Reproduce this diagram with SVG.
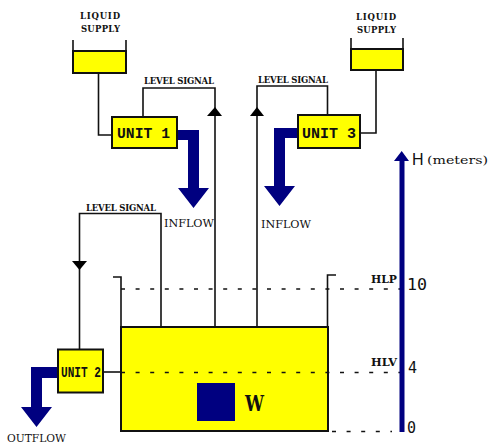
<svg xmlns="http://www.w3.org/2000/svg" width="489" height="445" viewBox="0 0 489 445">
<defs>
<style>
.y{fill:#ffff00;stroke:#111;stroke-width:2}
.w{fill:none;stroke:#111;stroke-width:1.6}
.d{fill:none;stroke:#111;stroke-width:1.6;stroke-dasharray:4 10.6}
.b{fill:#000080}
.k{fill:#000}
text{font-family:"DejaVu Serif","Liberation Serif",serif;fill:#111}
.s{font-size:8.500px;font-weight:bold}
.u{font-size:14.500px;font-weight:bold;font-family:"Liberation Mono","DejaVu Sans Mono",monospace}
.m{font-size:11.500px}
.n{font-size:15px;font-family:"DejaVu Sans Mono","Liberation Mono",monospace}
.h{font-size:11px;font-weight:bold}
</style>
</defs>
<rect width="489" height="445" fill="#fff"/>
<g id="tank">
<rect class="y" x="121" y="327" width="207" height="104"/>
<path class="w" d="M113 277H121V327M336 275H327.500V327"/>
<rect class="b" x="197" y="383" width="38" height="38"/>
<text x="245" y="411" textLength="19" lengthAdjust="spacingAndGlyphs" style="font-size:22px;font-weight:bold">W</text>
</g>
<g id="connectors">
<path class="w" d="M98.500 73V135H112"/>
<path class="w" d="M143 117V88H215V327"/>
<path class="k" d="M215 107L222 116H207Z"/>
<path class="w" d="M376 70V133H360"/>
<path class="w" d="M327.500 115V86H257V327"/>
<path class="k" d="M257 107L264 116H250Z"/>
<path class="w" d="M79.500 349V213.500H161V327"/>
<path class="k" d="M79.500 270L87 261H72Z"/>
<path class="w" d="M103 372H121"/>
<path class="b" d="M177 130H199V188H209L193.500 208L178 188H188V140H177Z"/>
<path class="b" d="M298 128H274V186H264L279.500 206L295 186H285V138H298Z"/>
<path class="b" d="M58 367H31V407H21L36.500 427L52 407H42V378H58Z"/>
<path class="d" d="M121 289H402M121 372.500H402M332 431.500H392"/>
<path class="b" d="M399.500 432V161H394L401.700 151L409 161H404.500V432Z"/>
</g>
<g id="supply1">
<path class="w" d="M73 40V51M126 40V51"/>
<rect class="y" x="73" y="51" width="53" height="22"/>
<text class="s" x="80" y="19" textLength="40">LIQUID</text>
<text class="s" x="81" y="32" textLength="39">SUPPLY</text>
</g>
<g id="supply3">
<path class="w" d="M351 38V49M403 38V49"/>
<rect class="y" x="351" y="49" width="52" height="21"/>
<text class="s" x="356" y="20" textLength="40">LIQUID</text>
<text class="s" x="357" y="33" textLength="39">SUPPLY</text>
</g>
<g id="unit1">
<rect class="y" x="112" y="117" width="65" height="31"/>
<text class="u" x="117" y="138" textLength="53" lengthAdjust="spacingAndGlyphs">UNIT 1</text>
</g>
<g id="unit3">
<rect class="y" x="298" y="115" width="62" height="33"/>
<text class="u" x="302" y="138" textLength="54" lengthAdjust="spacingAndGlyphs">UNIT 3</text>
</g>
<g id="unit2">
<rect class="y" x="58" y="349.500" width="45" height="43"/>
<text class="u" x="61" y="377" textLength="40" lengthAdjust="spacingAndGlyphs">UNIT 2</text>
</g>
<g id="labels">
<text class="s" x="144" y="84" textLength="70">LEVEL SIGNAL</text>
<text class="s" x="258" y="83" textLength="70">LEVEL SIGNAL</text>
<text class="s" x="86" y="211" textLength="70">LEVEL SIGNAL</text>
<text class="m" x="164" y="227" textLength="50" lengthAdjust="spacingAndGlyphs">INFLOW</text>
<text class="m" x="261" y="228" textLength="50" lengthAdjust="spacingAndGlyphs">INFLOW</text>
<text class="m" x="7" y="442" textLength="59" lengthAdjust="spacingAndGlyphs">OUTFLOW</text>
<text x="412" y="165" style="font-size:16px;font-family:'Liberation Sans',sans-serif">H</text>
<text class="m" x="427" y="164" textLength="61" lengthAdjust="spacingAndGlyphs">(meters)</text>
<text class="h" x="371" y="283" textLength="26" lengthAdjust="spacingAndGlyphs">HLP</text>
<text class="h" x="371" y="366" textLength="26" lengthAdjust="spacingAndGlyphs">HLV</text>
<text class="n" x="407" y="290" textLength="20" lengthAdjust="spacingAndGlyphs">10</text>
<text class="n" x="408" y="373">4</text>
<text class="n" x="407" y="433">0</text>
</g>
</svg>
